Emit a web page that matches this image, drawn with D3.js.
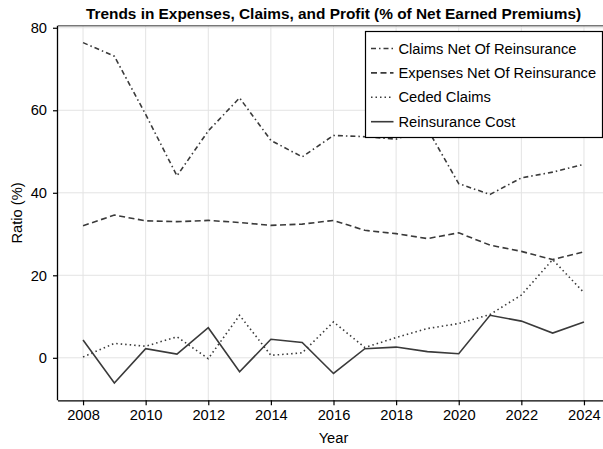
<!DOCTYPE html>
<html><head><meta charset="utf-8">
<script src="https://cdn.jsdelivr.net/npm/d3@7"></script>
<style>body{margin:0;background:#fff;}svg{display:block;font-family:"Liberation Sans",Arial,Helvetica,sans-serif;}</style>
</head><body>
<svg id="chart" width="603" height="449"></svg>
<script>
const years = [2008,2009,2010,2011,2012,2013,2014,2015,2016,2017,2018,2019,2020,2021,2022,2023,2024];
const claimsNet = [76.4,73.1,59.0,44.1,55.0,63.0,52.7,48.7,53.9,53.6,53.0,55.5,42.2,39.6,43.6,45.0,46.9];
const expensesNet = [32.0,34.6,33.2,33.0,33.3,32.8,32.1,32.4,33.3,30.9,30.1,28.9,30.3,27.3,25.8,23.8,25.7];
const cededClaims = [0.2,3.5,2.8,5.1,-0.2,10.3,0.6,1.2,8.7,2.5,4.9,7.1,8.3,10.5,15.2,23.8,15.8];
const reinsCost = [4.3,-6.1,2.2,0.9,7.3,-3.4,4.5,3.7,-3.8,2.2,2.6,1.5,1.0,10.3,8.9,6.0,8.7];
const seriesNames = ["Claims Net Of Reinsurance","Expenses Net Of Reinsurance","Ceded Claims","Reinsurance Cost"];
const xTicks = [2008,2010,2012,2014,2016,2018,2020,2022,2024];
const yTicks = [0,20,40,60,80];

const series = [
  {name: seriesNames[0], values: claimsNet, dash: "5,3,1.5,3"},
  {name: seriesNames[1], values: expensesNet, dash: "6,3.5"},
  {name: seriesNames[2], values: cededClaims, dash: "1.5,3"},
  {name: seriesNames[3], values: reinsCost, dash: null}
];

const svg = d3.select("#chart");
const L = 58, R = 609, T = 25.7, B = 400.3;
const x = d3.scaleLinear().domain([2007.2, 2024.8]).range([L, R]);
const y = d3.scaleLinear().domain([-10.3, 80.5]).range([B, T]);
const col = "#3a3a3a";
const fs = 14.7;

// grid
svg.append("g").selectAll("line").data(xTicks).join("line")
  .attr("x1", d => x(d)).attr("x2", d => x(d)).attr("y1", T).attr("y2", B)
  .attr("stroke", "#e3e3e3").attr("stroke-width", 1);
svg.append("g").selectAll("line").data(yTicks).join("line")
  .attr("x1", L).attr("x2", R).attr("y1", d => y(d)).attr("y2", d => y(d))
  .attr("stroke", "#e3e3e3").attr("stroke-width", 1);

// lines
const line = d3.line().x((d, i) => x(years[i])).y(d => y(d));
series.forEach(s => {
  svg.append("path").datum(s.values).attr("d", line)
    .attr("fill", "none").attr("stroke", col).attr("stroke-width", 1.6)
    .attr("stroke-dasharray", s.dash);
});

// top frame
svg.append("line").attr("x1", L).attr("x2", R).attr("y1", T).attr("y2", T)
  .attr("stroke", "#777").attr("stroke-width", 1.5);

// axes
const xAxis = d3.axisBottom(x).tickValues(xTicks).tickFormat(d3.format("d")).tickSize(5).tickPadding(4);
const gx = svg.append("g").attr("transform", `translate(0,${B})`).call(xAxis);
gx.select(".domain").attr("d", `M${L},0.5H${R}`).attr("stroke", "#000").attr("stroke-width", 1.3);
gx.selectAll(".tick line").attr("stroke", "#000").attr("stroke-width", 1.2);
gx.selectAll("text").attr("font-size", fs).attr("fill", "#000").attr("font-family", "Liberation Sans, Arial, sans-serif");

const yAxis = d3.axisLeft(y).tickValues(yTicks).tickSize(5).tickPadding(6);
const gy = svg.append("g").attr("transform", `translate(${L},0)`).call(yAxis);
gy.select(".domain").attr("d", `M-0.5,${T}V${B}`).attr("stroke", "#000").attr("stroke-width", 1.3);
gy.selectAll(".tick line").attr("stroke", "#000").attr("stroke-width", 1.2);
gy.selectAll("text").attr("font-size", fs).attr("fill", "#000").attr("font-family", "Liberation Sans, Arial, sans-serif");

// labels
svg.append("text").attr("x", (L + R) / 2).attr("y", 18.5).attr("text-anchor", "middle")
  .attr("font-weight", "bold").attr("font-size", 15.4).text("Trends in Expenses, Claims, and Profit (% of Net Earned Premiums)");
svg.append("text").attr("x", x(2016)).attr("y", 443).attr("text-anchor", "middle")
  .attr("font-size", fs).text("Year");
svg.append("text").attr("transform", `translate(22,${(T + B) / 2}) rotate(-90)`).attr("text-anchor", "middle")
  .attr("font-size", fs).text("Ratio (%)");

// legend
const lg = svg.append("g");
lg.append("rect").attr("x", 365.5).attr("y", 31.5).attr("width", 237).attr("height", 106)
  .attr("fill", "#fff").attr("stroke", "#000").attr("stroke-width", 1.2);
series.forEach((s, i) => {
  const yy = 48.5 + i * 24.4;
  lg.append("line").attr("x1", 371).attr("x2", 393.5).attr("y1", yy).attr("y2", yy)
    .attr("stroke", col).attr("stroke-width", 1.6).attr("stroke-dasharray", s.dash);
  lg.append("text").attr("x", 398.5).attr("y", yy).attr("dy", "0.35em")
    .attr("font-size", fs).text(s.name);
});
</script>
</body></html>
